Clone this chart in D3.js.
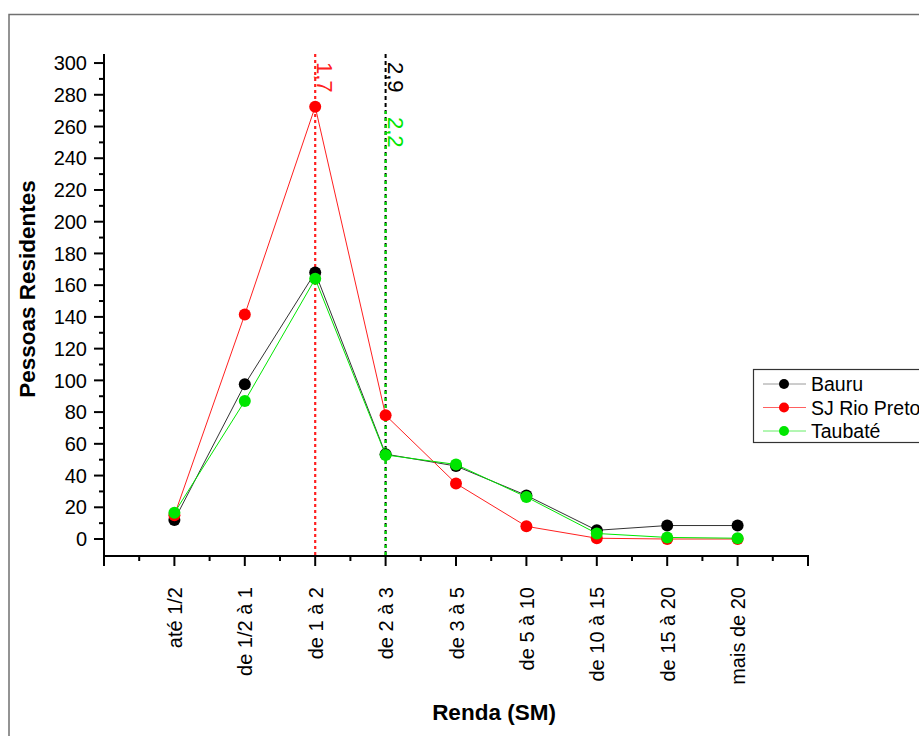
<!DOCTYPE html>
<html>
<head>
<meta charset="utf-8">
<script src="https://cdn.jsdelivr.net/npm/d3@7/dist/d3.min.js"></script>
<style>
  html, body { margin: 0; padding: 0; background: #fff; }
  svg { display: block; font-family: "Liberation Sans", Arial, sans-serif; }
</style>
</head>
<body>
<svg id="chart" width="919" height="736"></svg>
<script>
// Income brackets (salários mínimos)
const categories = ["até 1/2", "de 1/2 à 1", "de 1 à 2", "de 2 à 3", "de 3 à 5",
                    "de 5 à 10", "de 10 à 15", "de 15 à 20", "mais de 20"];

// Resident counts per bracket
const bauru      = [12, 97.5, 168, 53.5, 46, 27.5, 5.5, 8.5, 8.5];
const sjRioPreto = [15, 141.5, 272.5, 78, 35, 8, 0.5, 0, 0];
const taubate    = [16.5, 87, 164, 53, 47, 26.5, 3.5, 1, 0.5];

const seriesNames = ["Bauru", "SJ Rio Preto", "Taubaté"];

// Reference lines: bracket where each marker is drawn, and its text
const refLabels   = ["2,9", "1,7", "2,2"];
const refBrackets = ["de 2 à 3", "de 1 à 2", "de 2 à 3"];

// Y-axis ticks
const yMajorTicks = d3.range(0, 301, 20);
const yMinorTicks = d3.range(10, 300, 20);

const svg = d3.select("#chart");

// outer frame
svg.append("rect")
  .attr("x", 9).attr("y", 14.5).attr("width", 930).attr("height", 740)
  .attr("fill", "none").attr("stroke", "#707070").attr("stroke-width", 1.5);

const x = d3.scaleLinear().domain([-1, categories.length]).range([104, 808]);
const y = d3.scaleLinear().domain([-10.7, 305.7]).range([556, 54]);

const colors = { "Bauru": "#000000", "SJ Rio Preto": "#ff0000", "Taubaté": "#00e600" };
const lineColors = { "Bauru": "#333333", "SJ Rio Preto": "#ff2020", "Taubaté": "#00e600" };
const legendLine = { "Bauru": "#9a9a9a", "SJ Rio Preto": "#ff6060", "Taubaté": "#66ee66" };

// ---- axes ----
const axisG = svg.append("g").attr("stroke", "#000").attr("stroke-width", 2);
// y axis line
axisG.append("line").attr("x1", x(-1)).attr("x2", x(-1)).attr("y1", y.range()[1]).attr("y2", y.range()[0]);
// x axis line
axisG.append("line").attr("x1", x(-1) - 1).attr("x2", x(categories.length) + 1).attr("y1", y.range()[0]).attr("y2", y.range()[0]);

// y ticks
axisG.selectAll(".ymaj").data(yMajorTicks).join("line")
  .attr("x1", x(-1) - 10).attr("x2", x(-1))
  .attr("y1", d => y(d)).attr("y2", d => y(d));
axisG.selectAll(".ymin").data(yMinorTicks).join("line")
  .attr("x1", x(-1) - 5).attr("x2", x(-1))
  .attr("y1", d => y(d)).attr("y2", d => y(d));

svg.append("g").selectAll("text").data(yMajorTicks).join("text")
  .attr("x", x(-1) - 17).attr("y", d => y(d))
  .attr("dy", "0.36em").attr("text-anchor", "end")
  .attr("font-size", 20).attr("fill", "#000")
  .text(d => d);

// x ticks
const xMajor = d3.range(-1, categories.length + 1);
const xMinor = d3.range(-0.5, categories.length, 1);
axisG.selectAll(".xmaj").data(xMajor).join("line")
  .attr("x1", d => x(d)).attr("x2", d => x(d))
  .attr("y1", y.range()[0]).attr("y2", y.range()[0] + 10);
axisG.selectAll(".xmin").data(xMinor).join("line")
  .attr("x1", d => x(d)).attr("x2", d => x(d))
  .attr("y1", y.range()[0]).attr("y2", y.range()[0] + 5);

svg.append("g").selectAll("text").data(categories).join("text")
  .attr("transform", (d, i) => `translate(${x(i) + 7.5},587) rotate(-90)`)
  .attr("text-anchor", "end")
  .attr("font-size", 20).attr("fill", "#000")
  .text(d => d);

// axis titles
svg.append("text")
  .attr("transform", "translate(35,289) rotate(-90)")
  .attr("text-anchor", "middle").attr("font-size", 22.5).attr("font-weight", "bold")
  .text("Pessoas Residentes");
svg.append("text")
  .attr("x", 494).attr("y", 720)
  .attr("text-anchor", "middle").attr("font-size", 22.5).attr("font-weight", "bold")
  .text("Renda (SM)");

// ---- reference lines ----
const refG = svg.append("g");
const refIdx = refBrackets.map(b => categories.indexOf(b));
// Bauru (black dashed)
refG.append("line")
  .attr("x1", x(refIdx[0])).attr("x2", x(refIdx[0]))
  .attr("y1", y.range()[1]).attr("y2", y.range()[0])
  .attr("stroke", "#000").attr("stroke-width", 2).attr("stroke-dasharray", "4,3");
// SJ Rio Preto (red dotted)
refG.append("line")
  .attr("x1", x(refIdx[1])).attr("x2", x(refIdx[1]))
  .attr("y1", y.range()[1]).attr("y2", y.range()[0])
  .attr("stroke", "#ff2020").attr("stroke-width", 2.2).attr("stroke-dasharray", "3,3");
// Taubaté (green dashed, interleaved with the black one)
refG.append("line")
  .attr("x1", x(refIdx[2])).attr("x2", x(refIdx[2]))
  .attr("y1", y(272)).attr("y2", y.range()[0])
  .attr("stroke", "#00e600").attr("stroke-width", 2).attr("stroke-dasharray", "3,4")
  .attr("stroke-dashoffset", 3.5);

// reference labels
const refText = [
  { t: refLabels[0], i: refIdx[0], y0: 62, c: "#000" },
  { t: refLabels[1], i: refIdx[1], y0: 62, c: "#ff2020" },
  { t: refLabels[2], i: refIdx[2], y0: 117, c: "#00e600" }
];
refG.selectAll("text").data(refText).join("text")
  .attr("transform", d => `translate(${x(d.i) + 2},${d.y0}) rotate(90)`)
  .attr("font-size", 22).attr("fill", d => d.c)
  .text(d => d.t);

// ---- series ----
const allSeries = [bauru, sjRioPreto, taubate];
const line = d3.line().x((d, i) => x(i)).y(d => y(d));

allSeries.forEach((vals, k) => {
  const name = seriesNames[k];
  const g = svg.append("g");
  g.append("path").datum(vals)
    .attr("d", line).attr("fill", "none")
    .attr("stroke", lineColors[name]).attr("stroke-width", 1);
  g.selectAll("circle").data(vals).join("circle")
    .attr("cx", (d, i) => x(i)).attr("cy", d => y(d)).attr("r", 6)
    .attr("fill", colors[name]);
});

// ---- legend ----
const lg = svg.append("g");
lg.append("rect").attr("x", 753.5).attr("y", 369.5).attr("width", 200).attr("height", 73)
  .attr("fill", "#fff").attr("stroke", "#333").attr("stroke-width", 1.2);
seriesNames.forEach((name, k) => {
  const yy = 384 + k * 23.5;
  lg.append("line").attr("x1", 763).attr("x2", 806).attr("y1", yy).attr("y2", yy)
    .attr("stroke", legendLine[name]).attr("stroke-width", 1);
  lg.append("circle").attr("cx", 784).attr("cy", yy).attr("r", 5).attr("fill", colors[name]);
  lg.append("text").attr("x", 811).attr("y", yy).attr("dy", "0.36em")
    .attr("font-size", 19.5).attr("fill", "#000").text(name);
});
</script>
</body>
</html>
